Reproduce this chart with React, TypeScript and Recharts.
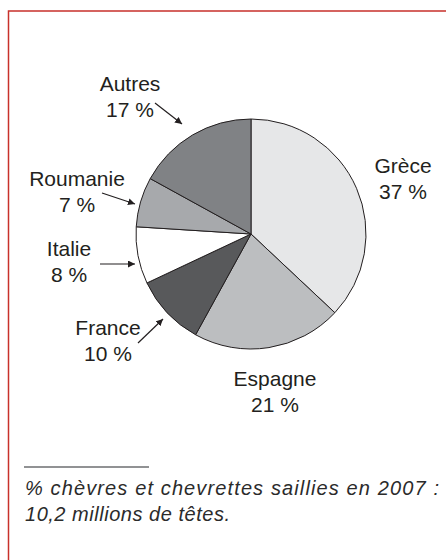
import { PieChart, Pie, Cell } from 'recharts';

// % chèvres et chevrettes saillies en 2007
const countries = ['Grèce', 'Espagne', 'France', 'Italie', 'Roumanie', 'Autres'];
const shares = [37, 21, 10, 8, 7, 17];
const sliceColors = ['#e6e7e8', '#bcbec0', '#58595b', '#ffffff', '#a7a9ac', '#808285'];

const data = countries.map((name, i) => ({ name, value: shares[i] }));

// label placement relative to the pie centre (first baseline), arrows from -> to
const LABEL_LAYOUT: Record<string, { dx: number; dy: number; arrow?: [number, number, number, number] }> = {
  'Grèce': { dx: 152, dy: -61 },
  Espagne: { dx: 24, dy: 152 },
  France: { dx: -143, dy: 101, arrow: [-113, 109, -88, 85] },
  Italie: { dx: -182, dy: 22, arrow: [-151, 30, -116, 30] },
  Roumanie: { dx: -174, dy: -48, arrow: [-149, -41, -116, -30] },
  Autres: { dx: -121, dy: -143, arrow: [-96, -131, -69, -110] },
};

const INK = '#231f20';
const FONT = '"Liberation Sans", Arial, Helvetica, sans-serif';

function renderLabel(props: any) {
  const { cx, cy, name, value } = props;
  const lay = LABEL_LAYOUT[name];
  if (!lay) return null;
  const x = cx + lay.dx;
  const y = cy + lay.dy;
  return (
    <g>
      <text x={x} y={y} textAnchor="middle" fontSize={21} fill={INK} fontFamily={FONT}>
        <tspan x={x} y={y}>{name}</tspan>
        <tspan x={x} y={y + 26}>{`${value} %`}</tspan>
      </text>
      {lay.arrow && (
        <line
          x1={cx + lay.arrow[0]}
          y1={cy + lay.arrow[1]}
          x2={cx + lay.arrow[2]}
          y2={cy + lay.arrow[3]}
          stroke={INK}
          strokeWidth={1.2}
          markerEnd="url(#arrowHead)"
        />
      )}
    </g>
  );
}

export default function App() {
  return (
    <div style={{ position: 'absolute', left: 0, top: 0, width: 446, height: 560, overflow: 'hidden', background: '#fff' }}>
      <PieChart width={446} height={560} margin={{ top: 0, right: 0, bottom: 0, left: 0 }}>
        <defs>
          <marker id="arrowHead" viewBox="0 0 10 10" refX={10} refY={5} markerWidth={7} markerHeight={7} markerUnits="userSpaceOnUse" orient="auto">
            <path d="M0,0 L10,5 L0,10 z" fill={INK} />
          </marker>
        </defs>
        <Pie
          data={data}
          dataKey="value"
          nameKey="name"
          cx={251}
          cy={234}
          outerRadius={115}
          startAngle={90}
          endAngle={-270}
          stroke={INK}
          strokeWidth={1}
          label={renderLabel}
          labelLine={false}
          isAnimationActive={false}
        >
          {data.map((d, i) => (
            <Cell key={d.name} fill={sliceColors[i]} />
          ))}
        </Pie>
      </PieChart>

      {/* frame + footnote */}
      <svg width={446} height={560} style={{ position: 'absolute', left: 0, top: 0, pointerEvents: 'none' }}>
        <path d="M8.5,560 L8.5,11 L446,11" fill="none" stroke="#c8312b" strokeWidth={1.5} />
        <line x1={24} y1={467} x2={149} y2={467} stroke="#6d6e71" strokeWidth={1.5} />
        <text x={25} y={495} fontSize={20} fontStyle="italic" fill="#2b2b2b" fontFamily={FONT} textLength={414} lengthAdjust="spacing">
          % chèvres et chevrettes saillies en 2007 :
        </text>
        <text x={25} y={521} fontSize={20} fontStyle="italic" fill="#2b2b2b" fontFamily={FONT} textLength={205} lengthAdjust="spacing">
          10,2 millions de têtes.
        </text>
      </svg>
    </div>
  );
}
